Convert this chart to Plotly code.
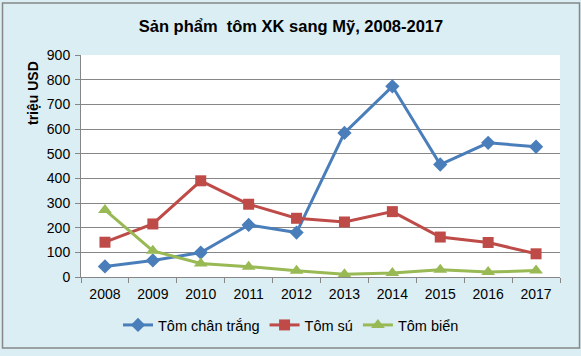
import plotly.graph_objects as go

years = ["2008", "2009", "2010", "2011", "2012", "2013", "2014", "2015", "2016", "2017"]
tom_chan_trang = [43, 67, 99, 211, 180, 584, 773, 456, 544, 528]
tom_su = [141, 215, 390, 295, 238, 223, 265, 162, 140, 94]
tom_bien = [272, 106, 55, 42, 25, 11, 16, 29, 20, 26]

title_text = "Sản phẩm  tôm XK sang Mỹ, 2008-2017"
y_title = "triệu USD"
y_ticks = [0, 100, 200, 300, 400, 500, 600, 700, 800, 900]

FONT = "Liberation Sans, Arial, sans-serif"

fig = go.Figure()
fig.add_trace(go.Scatter(x=years, y=tom_chan_trang, name="Tôm chân trắng", mode="lines+markers",
                         line=dict(color="#4A7EBB", width=3),
                         marker=dict(symbol="diamond", size=11, color="#4A7EBB")))
fig.add_trace(go.Scatter(x=years, y=tom_su, name="Tôm sú", mode="lines+markers",
                         line=dict(color="#BE4B48", width=3),
                         marker=dict(symbol="square", size=11, color="#BE4B48")))
fig.add_trace(go.Scatter(x=years, y=tom_bien, name="Tôm biển", mode="lines+markers",
                         line=dict(color="#98B954", width=3),
                         marker=dict(symbol="triangle-up", size=12, color="#98B954")))

L, R, T, B = 81, 21, 55, 79
W, H = 581, 356
pw, ph = W - L - R, H - T - B

def px_x(x):
    return (x - L) / pw

def px_y(y):
    return (H - B - y) / ph

fig.add_shape(type="rect", xref="paper", yref="paper",
              x0=px_x(2.5), x1=px_x(579.5), y0=px_y(348), y1=px_y(3),
              line=dict(color="#878787", width=1.5), fillcolor="rgba(0,0,0,0)", layer="below")

fig.add_annotation(text="<b>" + y_title + "</b>", xref="paper", yref="paper",
                   x=px_x(33), y=px_y(93), textangle=-90, showarrow=False,
                   xanchor="center", yanchor="middle", font=dict(size=14, family=FONT))

fig.update_layout(
    width=W, height=H,
    margin=dict(l=L, r=R, t=T, b=B),
    paper_bgcolor="#DBEEF4",
    plot_bgcolor="#FFFFFF",
    font=dict(family=FONT, size=14, color="#000000"),
    title=dict(text="<b>" + title_text + "</b>", xref="container", x=291 / W, xanchor="center",
               y=1 - 26 / H, yanchor="middle", font=dict(size=16.5, family=FONT)),
    showlegend=True,
    legend=dict(orientation="h", x=px_x(291), xanchor="center", y=px_y(325), yanchor="middle",
                font=dict(size=14.5, family=FONT), bgcolor="rgba(0,0,0,0)",
                itemwidth=30, tracegroupgap=0),
    xaxis=dict(type="category", range=[-0.5, 9.5], showgrid=False, showline=True,
               linecolor="#868686", linewidth=1, ticks="outside", tickson="boundaries",
               ticklen=5, tickcolor="#868686", tickfont=dict(size=14), zeroline=False,
               ticklabelstandoff=4, automargin=False, fixedrange=True),
    yaxis=dict(range=[0, 900], tickvals=y_ticks, showgrid=True, gridcolor="#868686",
               gridwidth=1, showline=True, linecolor="#868686", linewidth=1,
               ticks="outside", ticklen=5, tickcolor="#868686", tickfont=dict(size=14),
               zeroline=False, ticklabelstandoff=2, automargin=False, fixedrange=True),
)

fig.write_html("out.html", config={"displayModeBar": False},
               post_script="document.body.style.margin='0';")
